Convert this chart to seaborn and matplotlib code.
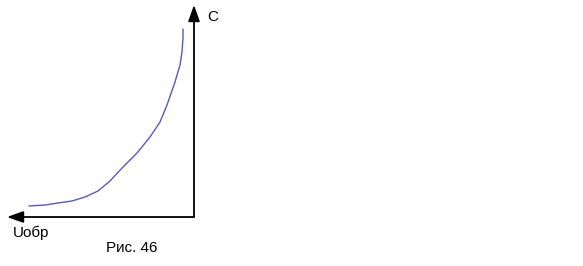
import matplotlib
matplotlib.use("Agg")
import matplotlib.pyplot as plt
import seaborn as sns
import pandas as pd
from matplotlib.patches import ArrowStyle

# Curve C(Uобр) (arbitrary units)
u_rev = [165, 149, 136, 122, 109, 96, 84, 71, 57, 44, 34, 27, 19, 14, 12, 11, 11]
cap = [11, 12, 14, 16, 20, 26, 36, 50, 64, 80, 95, 112, 135, 152, 165, 179, 188]

x_label = "Uобр"
y_label = "C"
caption = "Рис. 46"

sns.set_theme(style="white")
plt.rcParams["font.family"] = ["Liberation Sans", "DejaVu Sans"]

fig = plt.figure(figsize=(5.83, 2.66), dpi=100)
ax = fig.add_axes([0, 0, 1, 1])
ax.set_axis_off()

df = pd.DataFrame({"u": u_rev, "c": cap})
sns.lineplot(data=df, x="u", y="c", sort=False, estimator=None,
             color="#5a5ab8", linewidth=1.0, ax=ax)

ax.set_xlim(194, -389)
ax.set_ylim(-49, 217)

style = ArrowStyle("-|>", head_length=1.4, head_width=0.5)
ax.annotate("", xy=(0, 212), xytext=(0, 0),
            arrowprops=dict(arrowstyle=style, mutation_scale=7, color="black",
                            lw=1.3, shrinkA=0, shrinkB=0))
ax.annotate("", xy=(187, 0), xytext=(0, 0),
            arrowprops=dict(arrowstyle=style, mutation_scale=7, color="black",
                            lw=1.3, shrinkA=0, shrinkB=0))

ax.text(-13, 200, y_label, fontsize=11, ha="left", va="center", color="black")
ax.text(181, -16, x_label, fontsize=11, ha="left", va="center", color="black")
ax.text(88, -31, caption, fontsize=11, ha="left", va="center", color="black")

fig.savefig("out.png", dpi=100, facecolor="white")
